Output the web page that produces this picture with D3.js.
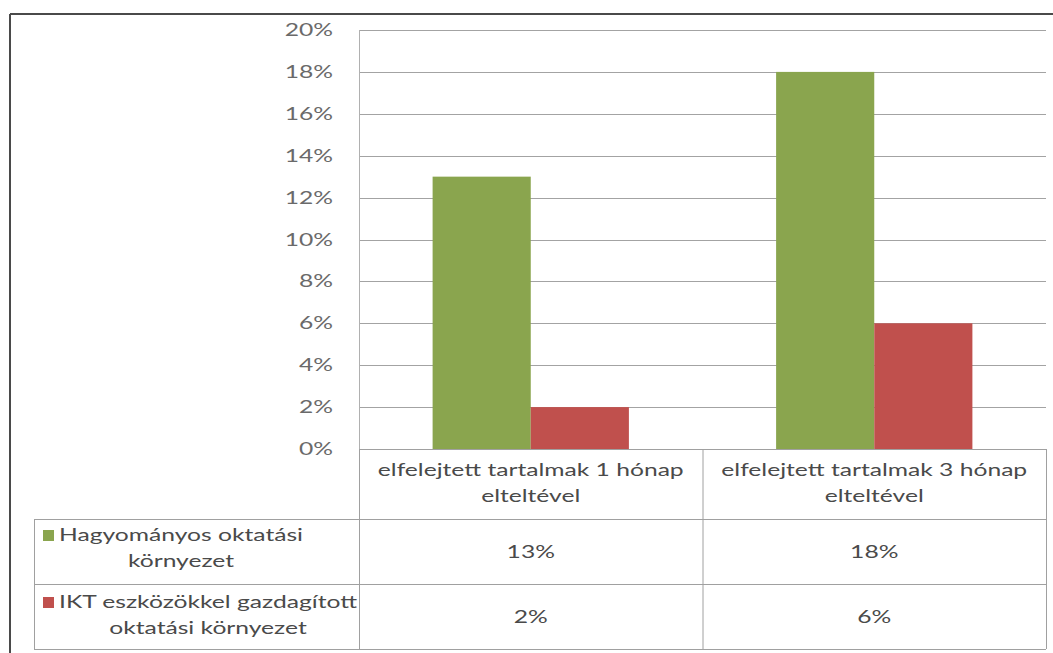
<!DOCTYPE html>
<html>
<head>
<meta charset="utf-8">
<script src="https://cdn.jsdelivr.net/npm/d3@7"></script>
<style>
  body { margin: 0; background: #fff; }
  text { font-family: Lato, "Open Sans", sans-serif; }
</style>
</head>
<body>
<div id="chart"></div>
<script>
// data
const categories = [
  ["elfelejtett tartalmak 1 hónap", "elteltével"],
  ["elfelejtett tartalmak 3 hónap", "elteltével"]
];
const seriesNames = [
  ["Hagyományos oktatási", "környezet"],
  ["IKT eszközökkel gazdagított", "oktatási környezet"]
];
const traditional = [0.13, 0.18];
const ict = [0.02, 0.06];
const yTicks = [0, 0.02, 0.04, 0.06, 0.08, 0.10, 0.12, 0.14, 0.16, 0.18, 0.20];
const colors = ["#8aa54e", "#c0504d"];

const W = 1053, H = 653;
const plot = { left: 359, right: 1046, top: 30, bottom: 449 };
const tableLeft = 34;
const rowLines = [449, 519, 584, 649];

var svg = d3.select("#chart")
  .append("svg")
  .attr("width", W)
  .attr("height", H);

var series = [traditional, ict];

var x = d3.scaleBand()
  .domain(d3.range(categories.length))
  .range([plot.left, plot.right]);

var x1 = d3.scaleBand()
  .domain(d3.range(series.length))
  .range([0, x.bandwidth()])
  .paddingOuter(0.75);

var y = d3.scaleLinear().domain([0, 0.2]).range([plot.bottom, plot.top]);

// horizontal squish of text to match the reference (measured width of header line)
var probe = svg.append("text").style("font-size", "17px").text(categories[0][0]);
var sx = 306 / probe.node().getComputedTextLength();
probe.remove();

function label(g, tx, ty, str, anchor, size, fill) {
  return g.append("text")
    .attr("transform", "translate(" + tx + "," + ty + ") scale(" + sx + ",1)")
    .attr("text-anchor", anchor)
    .style("font-size", size + "px")
    .attr("fill", fill)
    .text(str);
}

// outer frame (top + left)
svg.append("line").attr("x1", 10).attr("x2", W).attr("y1", 14).attr("y2", 14)
  .attr("stroke", "#4a4a4a").attr("stroke-width", 2);
svg.append("line").attr("x1", 10).attr("x2", 10).attr("y1", 14).attr("y2", H)
  .attr("stroke", "#4a4a4a").attr("stroke-width", 2);

// gridlines
svg.append("g")
  .selectAll("line")
  .data(yTicks.filter((d) => d > 0))
  .enter()
  .append("line")
  .attr("x1", plot.left)
  .attr("x2", plot.right)
  .attr("y1", (d) => Math.round(y(d)) + 0.5)
  .attr("y2", (d) => Math.round(y(d)) + 0.5)
  .attr("stroke", "#a3a3a3");

// y axis line
svg.append("line")
  .attr("x1", plot.left + 0.5).attr("x2", plot.left + 0.5)
  .attr("y1", y(0.2)).attr("y2", y(0))
  .attr("stroke", "#b0b0b0");

// tick labels
var ticksG = svg.append("g");
yTicks.forEach(function (t) {
  label(ticksG, 333, y(t) + 6, Math.round(t * 100) + "%", "end", 17, "#6a6a6a");
});

// bars
series.forEach(function (vals, s) {
  svg.append("g")
    .selectAll("rect")
    .data(vals)
    .enter()
    .append("rect")
    .attr("x", (d, i) => x(i) + x1(s))
    .attr("width", x1.bandwidth())
    .attr("y", (d) => y(d))
    .attr("height", (d) => y(0) - y(d))
    .attr("fill", colors[s]);
});

// data table
var tbl = svg.append("g").attr("stroke", "#a0a0a0").attr("fill", "none");
rowLines.forEach(function (ry, i) {
  tbl.append("line")
    .attr("x1", i === 0 ? plot.left : tableLeft)
    .attr("x2", plot.right)
    .attr("y1", ry + 0.5).attr("y2", ry + 0.5);
});
tbl.append("line").attr("x1", tableLeft + 0.5).attr("x2", tableLeft + 0.5)
  .attr("y1", rowLines[1]).attr("y2", rowLines[3]);
d3.range(categories.length + 1).forEach(function (i) {
  var cx = i < categories.length ? x(i) : plot.right;
  tbl.append("line").attr("x1", cx + 0.5).attr("x2", cx + 0.5)
    .attr("y1", rowLines[0]).attr("y2", rowLines[3]);
});

var textG = svg.append("g");
var txtColor = "#4a4a4a";

// header cells
categories.forEach(function (lines, i) {
  var cx = x(i) + x.bandwidth() / 2;
  lines.forEach(function (ln, k) {
    label(textG, cx, 476 + k * 26, ln, "middle", 17, txtColor);
  });
});

// series rows
var rowBase = [541, 608];
series.forEach(function (vals, s) {
  var base = rowBase[s];
  textG.append("rect")
    .attr("x", 43).attr("y", base - 11)
    .attr("width", 11).attr("height", 11)
    .attr("fill", colors[s]);
  var lines = seriesNames[s];
  var widths = lines.map(function (ln) {
    var t = label(textG, 0, 0, ln, "start", 17, txtColor);
    var w = t.node().getComputedTextLength() * sx;
    t.remove();
    return w;
  });
  var mid = 59 + d3.max(widths) / 2;
  lines.forEach(function (ln, k) {
    label(textG, mid, base + k * 26, ln, "middle", 17, txtColor);
  });
  vals.forEach(function (v, i) {
    var cy = (rowLines[s + 1] + rowLines[s + 2]) / 2;
    label(textG, x(i) + x.bandwidth() / 2, cy + 6, Math.round(v * 100) + "%", "middle", 17, txtColor);
  });
});
</script>
</body>
</html>
